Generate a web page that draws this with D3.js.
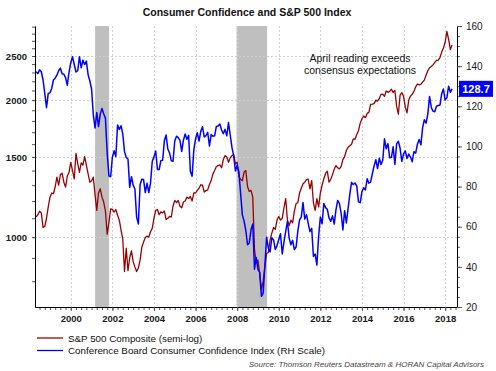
<!DOCTYPE html>
<html>
<head>
<meta charset="utf-8">
<script src="https://cdn.jsdelivr.net/npm/d3@7/dist/d3.min.js"></script>
<style>
body { margin: 0; background: #fff; }
svg { display: block; font-family: "Liberation Sans", Arial, sans-serif; }
</style>
</head>
<body>
<svg id="chart" width="496" height="371"></svg>
<script>
// monthly values, first point = April 1998, last = April 2018
var startYear = 1998, startMonth = 4;

var spx = [
	1107, 1120, 1140, 1130, 1050, 1055, 1100, 1165, 1224,
	1250, 1245, 1290, 1354, 1300, 1372, 1382, 1320, 1288, 1362, 1388, 1460,
	1400, 1343, 1527, 1452, 1388, 1455, 1440, 1503, 1440, 1377, 1320, 1330,
	1354, 1240, 1145, 1250, 1277, 1224, 1194, 1140, 1015, 1075, 1153, 1150,
	1135, 1149, 1117, 1089, 1036, 990, 840, 945, 844, 900, 933, 883,
	860, 840, 855, 891, 950, 975, 998, 1005, 1000, 1027, 1045, 1100,
	1145, 1150, 1120, 1136, 1130, 1141, 1093, 1100, 1110, 1107, 1170, 1204,
	1190, 1204, 1169, 1160, 1194, 1200, 1224, 1215, 1228, 1200, 1250, 1250,
	1267, 1280, 1303, 1300, 1256, 1265, 1270, 1305, 1331, 1375, 1400, 1429,
	1435, 1441, 1420, 1480, 1510, 1500, 1460, 1493, 1510, 1518, 1448, 1460,
	1359, 1340, 1330, 1390, 1400, 1290, 1260, 1267, 1224, 940, 876, 890,
	830, 766, 800, 861, 920, 925, 985, 1020, 1050, 1040, 1090, 1110,
	1090, 1099, 1160, 1215, 1090, 1060, 1089, 1075, 1140, 1185, 1190, 1250,
	1280, 1310, 1320, 1337, 1340, 1277, 1331, 1190, 1145, 1215, 1165, 1250,
	1300, 1343, 1380, 1396, 1320, 1340, 1370, 1410, 1436, 1420, 1412, 1430,
	1480, 1503, 1550, 1575, 1588, 1600, 1643, 1640, 1680, 1713, 1780, 1820,
	1845, 1830, 1870, 1880, 1958, 1960, 1965, 2000, 1990, 2015, 2059, 2060,
	2040, 2095, 2080, 2090, 2113, 2080, 2100, 1940, 1862, 2050, 2077, 2040,
	1930, 1876, 2000, 2041, 2060, 2090, 2139, 2170, 2160, 2167, 2190, 2213,
	2270, 2320, 2355, 2370, 2390, 2420, 2444, 2450, 2480, 2550, 2602, 2680,
	2832, 2720, 2583, 2645
];

var cci = [
	137.2, 136.3, 138.2, 137.2, 133.1, 126.4, 119.3, 126.4, 126.7,
	128.9, 133.1, 134.0, 135.5, 137.7, 139.0, 136.2, 136.0, 134.2, 130.5, 137.0, 141.7,
	144.7, 140.8, 137.1, 137.7, 144.7, 139.2, 143.0, 140.8, 142.5, 135.8, 132.6, 128.6,
	115.7, 109.2, 116.9, 109.9, 116.1, 118.9, 116.3, 114.0, 97.0, 85.3, 84.9, 94.6,
	97.8, 95.0, 110.7, 108.5, 110.3, 106.3, 97.4, 94.5, 93.7, 79.6, 84.9, 80.7,
	78.8, 64.8, 61.4, 81.0, 83.6, 83.5, 77.0, 81.7, 77.0, 81.7, 92.5, 94.8,
	97.7, 88.5, 88.5, 93.0, 93.1, 102.8, 105.7, 98.7, 96.7, 92.9, 92.6, 102.7,
	105.1, 104.4, 103.0, 97.5, 103.1, 106.2, 103.6, 105.5, 87.5, 85.2, 98.3, 103.8,
	106.8, 102.7, 107.5, 109.8, 104.7, 105.4, 107.0, 100.2, 105.9, 105.1, 105.3, 110.0,
	110.2, 111.2, 108.2, 106.3, 108.5, 105.3, 111.9, 105.6, 99.5, 95.2, 87.8, 90.6,
	87.3, 76.4, 65.9, 62.8, 58.1, 51.0, 51.9, 58.5, 61.4, 38.8, 44.7, 38.6,
	37.4, 25.3, 26.9, 40.8, 54.8, 49.3, 47.4, 54.5, 53.4, 48.7, 50.6, 53.6,
	56.5, 46.4, 52.3, 57.7, 62.7, 54.3, 51.0, 53.2, 48.6, 49.9, 57.8, 63.4,
	64.8, 72.0, 63.8, 66.0, 61.7, 57.6, 59.2, 45.2, 46.4, 40.9, 55.2, 64.8,
	61.5, 71.6, 69.5, 68.7, 64.4, 62.7, 65.4, 61.3, 68.4, 73.1, 71.5, 66.7,
	58.4, 68.0, 61.9, 69.0, 76.2, 82.1, 81.0, 81.8, 80.2, 72.4, 72.0, 77.5,
	79.4, 78.3, 83.9, 81.7, 82.2, 86.4, 90.3, 93.4, 89.0, 94.1, 91.0, 93.1,
	103.8, 98.8, 101.4, 94.3, 94.6, 99.8, 91.0, 101.3, 102.6, 99.1, 92.6, 96.3,
	97.8, 94.0, 96.2, 94.7, 92.4, 97.4, 96.7, 101.1, 103.5, 100.8, 109.4, 113.3,
	111.6, 116.1, 124.9, 119.4, 117.6, 117.3, 120.0, 120.4, 120.6, 126.2, 128.6, 123.1,
	124.3, 130.0, 127.0, 128.7
];

// recession periods (decimal years)
var recessions = [[2001.17, 2001.84], [2007.97, 2009.44]];

var yearTicks = [2000, 2002, 2004, 2006, 2008, 2010, 2012, 2014, 2016, 2018];
var leftTicks = [1000, 1500, 2000, 2500];
var leftMinor = d3.range(800, 3000, 100);
var rightTicks = [20, 40, 60, 80, 100, 120, 140, 160];
var lastLabel = "128.7";

var titleText = "Consumer Confidence and S&P 500 Index";
var noteLines = ["April reading exceeds", "consensus expectations"];
var legendItems = [
	{ name: "S&P 500 Composite (semi-log)", color: "#990000" },
	{ name: "Conference Board Consumer Confidence Index (RH Scale)", color: "#0000ff" }
];
var sourceText = "Source: Thomson Reuters Datastream & HORAN Capital Advisors";

var svg = d3.select("#chart");
var plotLeft = 35, plotRight = 457, plotTop = 26, plotBottom = 307;

var x = d3.scaleLinear().domain([1998.28, 2018.57]).range([plotLeft, plotRight]);
var yL = d3.scaleLog().domain([702, 2910]).range([plotBottom, plotTop]);
var yR = d3.scaleLinear().domain([20, 160]).range([plotBottom, plotTop]);

function dateAt(i) {
	return startYear + (startMonth + i) / 12;
}

// recession bars
svg.append("g").selectAll("rect").data(recessions).enter().append("rect")
	.attr("x", function (d) { return x(d[0]); })
	.attr("y", plotTop)
	.attr("width", function (d) { return x(d[1]) - x(d[0]); })
	.attr("height", plotBottom - plotTop)
	.attr("fill", "#bfbfbf");

// grid
var grid = svg.append("g").attr("stroke", "#cfcfcf").attr("stroke-dasharray", "2,2").attr("stroke-width", 1);
grid.selectAll("line.v").data(yearTicks).enter().append("line")
	.attr("x1", function (d) { return Math.round(x(d)) + 0.5; })
	.attr("x2", function (d) { return Math.round(x(d)) + 0.5; })
	.attr("y1", plotTop).attr("y2", plotBottom);
grid.selectAll("line.h").data(leftTicks).enter().append("line")
	.attr("x1", plotLeft).attr("x2", plotRight)
	.attr("y1", function (d) { return Math.round(yL(d)) + 0.5; })
	.attr("y2", function (d) { return Math.round(yL(d)) + 0.5; });

// series
var spxLine = d3.line().x(function (d, i) { return x(dateAt(i)); }).y(function (d) { return yL(d); });
var cciLine = d3.line().x(function (d, i) { return x(dateAt(i)); }).y(function (d) { return yR(d); });

svg.append("path").attr("d", spxLine(spx)).attr("fill", "none")
	.attr("stroke", legendItems[0].color).attr("stroke-width", 1.3).attr("stroke-linejoin", "round");
svg.append("path").attr("d", cciLine(cci)).attr("fill", "none")
	.attr("stroke", legendItems[1].color).attr("stroke-width", 1.5).attr("stroke-linejoin", "round");

// axes
function styleAxis(g, bold, size) {
	g.select(".domain").attr("stroke", "#555");
	g.selectAll(".tick line").attr("stroke", "#555");
	g.selectAll(".tick text").attr("fill", "#1a1a1a")
		.style("font-family", "'Liberation Sans', Arial, sans-serif")
		.style("font-size", size + "px")
		.style("font-weight", bold ? "bold" : "normal");
}

var gx = svg.append("g").attr("transform", "translate(0," + plotBottom + ")");
gx.call(d3.axisBottom(x).tickValues(d3.range(1998.5, 2018.6, 0.25)).tickFormat("").tickSize(3).tickSizeOuter(0));
gx.append("g").call(d3.axisBottom(x).tickValues(yearTicks).tickFormat(d3.format("d")).tickSize(4).tickSizeOuter(0).tickPadding(4));
styleAxis(gx, true, 9.5);

var gl = svg.append("g").attr("transform", "translate(" + plotLeft + ",0)");
gl.call(d3.axisLeft(yL).tickValues(leftMinor).tickFormat("").tickSize(3).tickSizeOuter(0));
gl.append("g").call(d3.axisLeft(yL).tickValues(leftTicks).tickFormat(d3.format("d")).tickSize(3).tickSizeOuter(0).tickPadding(5));
styleAxis(gl, true, 9.5);

var gr = svg.append("g").attr("transform", "translate(" + plotRight + ",0)");
gr.call(d3.axisRight(yR).tickValues(d3.range(20, 161, 5)).tickFormat("").tickSize(3).tickSizeOuter(0));
gr.append("g").call(d3.axisRight(yR).tickValues(rightTicks).tickFormat(d3.format("d")).tickSize(5).tickSizeOuter(0).tickPadding(4));
styleAxis(gr, false, 10);

// last value box
var boxY = yR(cci[cci.length - 1]);
svg.append("rect").attr("x", 459).attr("y", boxY - 8).attr("width", 34).attr("height", 16).attr("fill", "#0000ff");
svg.append("text").attr("x", 476).attr("y", boxY + 4).attr("text-anchor", "middle")
	.attr("fill", "#fff").style("font-size", "11px").style("font-weight", "bold").text(lastLabel);

// title and note
svg.append("text").attr("x", 247).attr("y", 15.5).attr("text-anchor", "middle")
	.style("font-size", "10.5px").style("font-weight", "bold").attr("fill", "#111").text(titleText);

svg.append("g").selectAll("text").data(noteLines).enter().append("text")
	.attr("x", 360).attr("y", function (d, i) { return 61.5 + i * 12; })
	.attr("text-anchor", "middle").style("font-size", "10.5px").attr("fill", "#111")
	.text(function (d) { return d; });

// legend
var lg = svg.append("g").selectAll("g").data(legendItems).enter().append("g")
	.attr("transform", function (d, i) { return "translate(0," + (338 + i * 12.5) + ")"; });
lg.append("line").attr("x1", 37).attr("x2", 63).attr("y1", 0).attr("y2", 0)
	.attr("stroke", function (d) { return d.color; }).attr("stroke-width", 1.3);
lg.append("text").attr("x", 68).attr("y", 3.7).style("font-size", "9.8px").attr("fill", "#111")
	.text(function (d) { return d.name; });

svg.append("text").attr("x", 484).attr("y", 367).attr("text-anchor", "end")
	.style("font-size", "8px").style("font-style", "italic").attr("fill", "#444").text(sourceText);
</script>
</body>
</html>
